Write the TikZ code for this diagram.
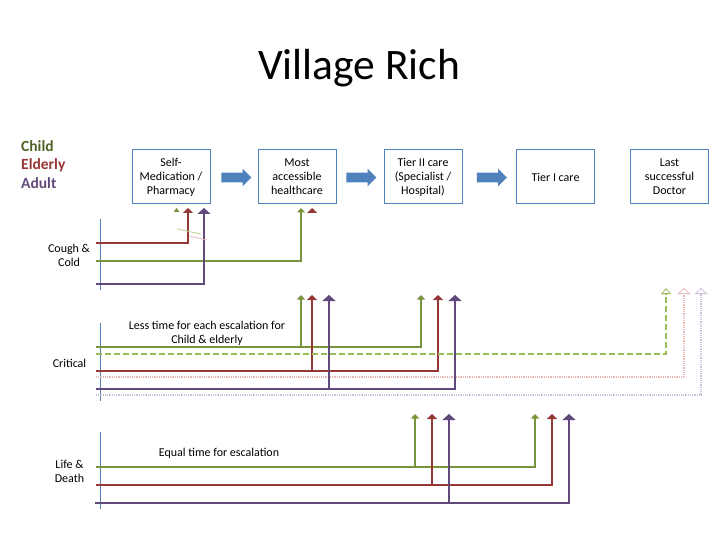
\documentclass[tikz,border=0pt]{standalone}
\usepackage{fontspec}
\setmainfont{Carlito}
\usetikzlibrary{arrows.meta,shapes.arrows}
\definecolor{boxblue}{HTML}{4F81BD}
\definecolor{kidgreen}{HTML}{77933C}
\definecolor{oldred}{HTML}{953735}
\definecolor{adultpurple}{HTML}{604A7B}
\definecolor{legendgreen}{HTML}{4F6228}
\definecolor{palegreen}{HTML}{9BBB59}
\definecolor{palered}{HTML}{E6B9B8}
\definecolor{palepurple}{HTML}{CCC1DA}
\begin{document}
\begin{tikzpicture}[x=1pt, y=-1pt,
  stage/.style={draw=boxblue, line width=1pt, fill=white,
                minimum width=78pt, minimum height=54pt, inner sep=1pt,
                align=center, font=\fontsize{12}{14}\selectfont},
  flow/.style={single arrow, fill=boxblue, draw=none, inner sep=4.6pt,
               minimum height=30pt, single arrow head extend=4pt},
  rowname/.style={align=center, font=\fontsize{12}{13.5}\selectfont},
  note/.style={align=center, font=\fontsize{12}{14}\selectfont},
  legend/.style={anchor=west, inner sep=0pt, font=\fontsize{15.5}{17}\selectfont\bfseries},
  title/.style={font=\fontsize{43.5}{48}\selectfont},
  axis/.style={boxblue, line width=0.9pt},
  kid/.style={kidgreen, line width=1.3pt, -{Triangle[width=8pt,length=4.5pt]}},
  eld/.style={oldred, line width=1.3pt, -{Triangle[width=10pt,length=5pt]}},
  adult/.style={adultpurple, line width=1.3pt, -{Triangle[width=13pt,length=6pt]}},
  kidopt/.style={palegreen, line width=2pt, dash pattern=on 6pt off 3pt,
                 -{Triangle[open,width=10pt,length=6pt,line width=0.8pt,fill=white]}},
  eldopt/.style={palered, line width=1.8pt, dash pattern=on 0.9pt off 0.9pt,
                 -{Triangle[open,width=13pt,length=6pt,line width=0.8pt,fill=white]}},
  adultopt/.style={palepurple, line width=1.8pt, dash pattern=on 0.9pt off 0.9pt,
                   -{Triangle[open,width=13pt,length=6pt,line width=0.8pt,fill=white]}}
]
  \useasboundingbox (0,0) rectangle (720,540);

  \node[title] (head) at (359,68) {Village Rich};
  \node[legend, text=legendgreen] (lchild) at (21,146) {Child};
  \node[legend, text=oldred] (lelder) at (21,165) {Elderly};
  \node[legend, text=adultpurple] (ladult) at (21,183.5) {Adult};

  \node[stage] (self) at (171,177) {Self-\\Medication /\\Pharmacy};
  \node[stage] (near) at (297,177) {Most\\accessible\\healthcare};
  \node[stage] (tier2) at (423,177) {Tier II care\\(Specialist /\\Hospital)};
  \node[stage] (tier1) at (555.5,177) {Tier I care};
  \node[stage] (last) at (669.5,177) {Last\\successful\\Doctor};
  \node[flow] (f1) at (234,177.5) {};
  \node[flow] (f2) at (359,177.5) {};
  \node[flow] (f3) at (489.5,177.5) {};

  % cough & cold
  \node[rowname] (cough) at (69,255.5) {Cough \&\\Cold};
  \draw[axis] (100,219) -- (100,290);
  \coordinate (cc-g) at (96,261);   \coordinate (cc-g1) at (301,208);
  \coordinate (cc-e) at (96,243);   \coordinate (cc-e1) at (188,208);
  \coordinate (cc-a) at (96,284);   \coordinate (cc-a1) at (204,208);
  \draw[eld] (cc-e) -| (cc-e1);
  \draw[kid] (cc-g) -| (cc-g1);
  \draw[adult] (cc-a) -| (cc-a1);
  \fill[kidgreen] (173.5,212) -- (179.5,212) -- (176.5,208) -- cycle;
  \fill[oldred] (307,213) -- (317,213) -- (312,208) -- cycle;
  \draw[palegreen!70, line width=0.8pt] (177,229) -- (201,234);
  \draw[palered, line width=0.8pt] (189,236) -- (207,240);

  % critical
  \node[rowname] (crit) at (69.5,363) {Critical};
  \node[note] (less) at (207,333) {Less time for each escalation for\\Child \& elderly};
  \draw[axis] (100,323) -- (100,401);
  \coordinate (cr-g) at (96,347);   \coordinate (cr-g1) at (301,295);  \coordinate (cr-g2) at (421,295);
  \coordinate (cr-e) at (96,371);   \coordinate (cr-e1) at (312,295);  \coordinate (cr-e2) at (438,295);
  \coordinate (cr-a) at (96,389);   \coordinate (cr-a1) at (329,295);  \coordinate (cr-a2) at (455,295);
  \coordinate (cr-go) at (96,354);  \coordinate (cr-go1) at (666,288);
  \coordinate (cr-eo) at (96,377);  \coordinate (cr-eo1) at (684,288);
  \coordinate (cr-ao) at (96,395);  \coordinate (cr-ao1) at (701,288);
  \draw[eldopt] (cr-eo) -| (cr-eo1);
  \draw[adultopt] (cr-ao) -| (cr-ao1);
  \draw[kid] (cr-g) -| (cr-g2);
  \draw[kid] (cr-g1 |- cr-g) -- (cr-g1);
  \draw[eld] (cr-e) -| (cr-e2);
  \draw[eld] (cr-e1 |- cr-e) -- (cr-e1);
  \draw[adult] (cr-a) -| (cr-a2);
  \draw[adult] (cr-a1 |- cr-a) -- (cr-a1);
  \draw[kidopt] (cr-go) -| (cr-go1);

  % life & death
  \node[rowname] (life) at (69.5,471.5) {Life \&\\Death};
  \node[note] (equal) at (219,453.5) {Equal time for escalation};
  \draw[axis] (100,432) -- (100,509);
  \coordinate (ld-g) at (96,467);   \coordinate (ld-g1) at (415,414);  \coordinate (ld-g2) at (535,414);
  \coordinate (ld-e) at (96,485);   \coordinate (ld-e1) at (432,414);  \coordinate (ld-e2) at (552,414);
  \coordinate (ld-a) at (95,503);   \coordinate (ld-a1) at (449,414);  \coordinate (ld-a2) at (569,414);
  \draw[kid] (ld-g) -| (ld-g2);
  \draw[kid] (ld-g1 |- ld-g) -- (ld-g1);
  \draw[eld] (ld-e) -| (ld-e2);
  \draw[eld] (ld-e1 |- ld-e) -- (ld-e1);
  \draw[adult] (ld-a) -| (ld-a2);
  \draw[adult] (ld-a1 |- ld-a) -- (ld-a1);
\end{tikzpicture}
\end{document}
